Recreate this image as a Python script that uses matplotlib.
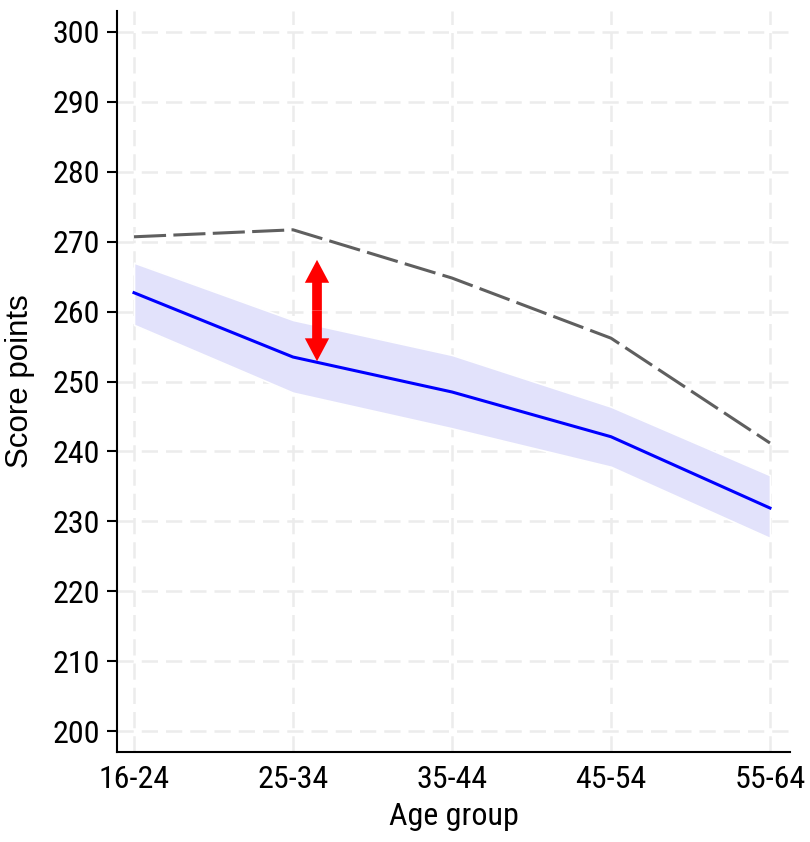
import matplotlib
matplotlib.use('Agg')
import matplotlib.pyplot as plt
import matplotlib.patheffects as pe

age_groups = ['16-24', '25-34', '35-44', '45-54', '55-64']
reference = [270.7, 271.7, 264.8, 256.2, 241.2]
score = [262.7, 253.5, 248.5, 242.1, 231.9]
score_upper = [267.0, 258.8, 253.8, 246.4, 236.6]
score_lower = [258.1, 248.4, 243.3, 237.8, 227.6]
y_ticks = [200, 210, 220, 230, 240, 250, 260, 270, 280, 290, 300]
# gap arrow between the two lines at 25-34
arrow_x = 1.151
arrow_top = 267.4
arrow_bottom = 252.9

narrow = ['Liberation Sans Narrow', 'Roboto Condensed', 'Archivo Narrow', 'DejaVu Sans']
regular = ['Liberation Sans', 'DejaVu Sans']

fig = plt.figure(figsize=(8.1, 8.42), dpi=100)
ax = fig.add_axes([117 / 810, 1 - 752 / 842, (790 - 117) / 810, (752 - 11) / 842])

x = range(len(age_groups))

# grid
ax.grid(True, color='#ececec', linestyle=(0, (6.5, 3.2)), linewidth=1.8)
ax.set_axisbelow(True)

# confidence band
ax.fill_between(x, score_lower, score_upper, color='#e2e2fb', edgecolor='white', linewidth=1.2, zorder=2)

halo = [pe.Stroke(linewidth=5.5, foreground='white'), pe.Normal()]
ax.plot(x, reference, color='#5f5f5f', linewidth=2.2, dashes=(10.5, 2.4), zorder=3, path_effects=halo)
ax.plot(x, score, color='#0000ff', linewidth=2.2, zorder=4)

# double arrow drawn as two arrows from the middle
mid = (arrow_top + arrow_bottom) / 2
for end in (arrow_top, arrow_bottom):
    ax.annotate('', xy=(arrow_x, end), xytext=(arrow_x, mid),
                arrowprops=dict(width=7, headwidth=17.5, headlength=16.5, shrink=0,
                                facecolor='#ff0000', edgecolor='none'),
                zorder=5)

ax.set_xlim(-0.107, 4.126)
ax.set_ylim(197.0, 303.0)
ax.set_xticks(list(x))
ax.set_xticklabels(age_groups, family=narrow, fontsize=23)
ax.set_yticks(y_ticks)
ax.set_yticklabels([str(t) for t in y_ticks], family=narrow, fontsize=23)
ax.tick_params(axis='y', length=7, width=1.5, direction='out', pad=5)
ax.tick_params(axis='x', length=0, pad=9)

for s in ['top', 'right']:
    ax.spines[s].set_visible(False)
for s in ['left', 'bottom']:
    ax.spines[s].set_linewidth(1.5)

ax.set_xlabel('Age group', family=narrow, fontsize=23, labelpad=6)
ax.set_ylabel('Score points', family=regular, fontsize=22.5)
ax.yaxis.set_label_coords(-0.122, 0.5)

fig.savefig('out.png', dpi=100)
